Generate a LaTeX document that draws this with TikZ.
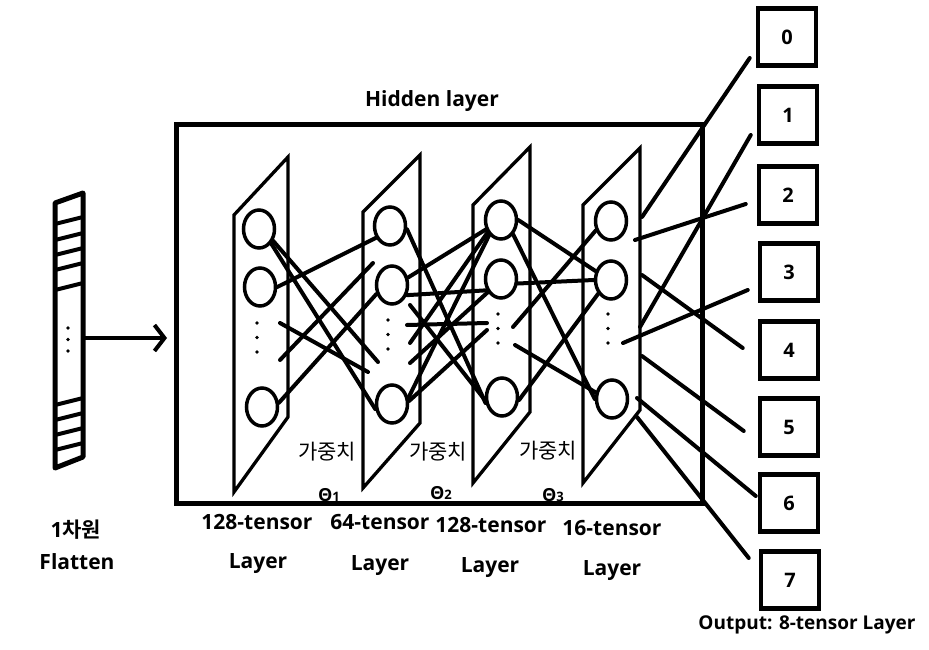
\documentclass[tikz,border=0pt]{standalone}
\usepackage{fontspec}
\setmainfont{Open Sans}
\newfontfamily\kr{Noto Sans CJK KR}[BoldFont={Noto Sans CJK KR Bold}]
\usetikzlibrary{shapes.geometric,arrows.meta}

\begin{document}
\begin{tikzpicture}[x=1pt, y=-1pt,
    unit/.style={draw, ellipse, line width=3.5pt, minimum width=31pt, minimum height=38pt, inner sep=0pt},
    plane/.style={line width=3.3pt, line join=miter},
    link/.style={line width=4pt, line cap=round},
    outbox/.style={draw, line width=4.5pt, minimum width=58pt, minimum height=57pt, inner sep=0pt, font=\bfseries\fontsize{20}{20}\selectfont},
    lbl/.style={font=\bfseries\fontsize{21}{24}\selectfont},
    wlbl/.style={font=\kr\fontsize{21}{21}\selectfont},
    tlbl/.style={font=\bfseries\fontsize{18}{18}\selectfont}]
    \useasboundingbox (0,0) rectangle (929,650);

    % Flatten input
    \draw[line width=5pt, line join=round] (55,203) -- (83,193) -- (83,457) -- (55,468) -- cycle;
    \foreach \y in {217,233,248,263,283,398,413,428,443}
        \draw[line width=4pt] (55,\y+7) -- (83,\y);
    \foreach \k in {0,11.5,23}
        \fill (68,328+\k) circle (1.8pt);
    \node[lbl] (dim) at (76,530) {1\kr 차원};
    \node[lbl] (flat) at (77,562) {Flatten};

    % Arrow into hidden layer
    \coordinate (F) at (84,338);
    \coordinate (H) at (167,338);
    \draw[line width=4pt, -{Straight Barb[length=10pt,width=26pt]}] (F) -- (H);

    % Hidden layer box
    \draw[line width=5pt] (176,125) rectangle (702,503);
    \node[lbl] (hid) at (432,101) {Hidden layer};

    % Layer planes
    \draw[plane] (234,215) -- (288,157) -- (288,417) -- (234,492) -- cycle;
    \draw[plane] (363,212) -- (420,155) -- (420,423) -- (363,488) -- cycle;
    \draw[plane] (473,205) -- (530,147) -- (530,412) -- (473,483) -- cycle;
    \draw[plane] (583,205) -- (640,148) -- (640,410) -- (583,483) -- cycle;

    % Units
    \node[unit] (L1t) at (259,229) {};
    \node[unit] (L1m) at (260,287) {};
    \node[unit] (L1b) at (262,407) {};
    \node[unit] (L2t) at (390,226) {};
    \node[unit] (L2m) at (392,285) {};
    \node[unit] (L2b) at (392,404) {};
    \node[unit] (L3t) at (501,220) {};
    \node[unit] (L3m) at (501,279) {};
    \node[unit] (L3b) at (502,397) {};
    \node[unit] (L4t) at (611,221) {};
    \node[unit] (L4m) at (611,280) {};
    \node[unit] (L4b) at (612,399) {};
    \foreach \dx/\dy in {257/323, 388/320, 498/314, 608/314}
        \foreach \k in {0,14.5,29}
            \fill (\dx,\dy+\k) circle (1.8pt);

    % Free ends
    \coordinate (P1) at (378,362);
    \coordinate (P2) at (280,323);
    \coordinate (P3) at (368,372);
    \coordinate (P4) at (280,360);
    \coordinate (P5) at (373,263);
    \coordinate (P6) at (407,325);
    \coordinate (P7) at (487,323);
    \coordinate (P8) at (410,305);
    \coordinate (P9) at (410,343);
    \coordinate (P10) at (410,363);
    \coordinate (P11) at (487,330);
    \coordinate (P12) at (513,327);
    \coordinate (P13) at (515,345);

    % Weights 1
    \draw[link] (L1t.-40) -- (P1);
    \draw[link] (L1t.-50) -- (L2b.197);
    \draw[link] (L1m.0) -- (L2t.220);
    \draw[link] (P2) -- (P3);
    \draw[link] (P4) -- (P5);
    \draw[link] (L1b.14) -- (L2m.210);

    % Weights 2
    \draw[link] (L2t.-11) -- (L3b.200);
    \draw[link] (L2m.25) -- (L3t.212);
    \draw[link] (L2m.-34) -- (L3m.218);
    \draw[link] (P6) -- (P7);
    \draw[link] (P8) -- (L3b.190);
    \draw[link] (P9) -- (L3t.223);
    \draw[link] (P10) -- (L3m.225);
    \draw[link] (L2b.21) -- (L3t.232);
    \draw[link] (L2b.10) -- (P11);

    % Weights 3
    \draw[link] (L3t.0) -- (L4m.150);
    \draw[link] (L3t.-50) -- (L4b.180);
    \draw[link] (L3m.-15) -- (L4m.180);
    \draw[link] (P12) -- (L4t.212);
    \draw[link] (P13) -- (L4b.158);
    \draw[link] (L3b.-10) -- (L4m.227);

    % Weight labels
    \node[wlbl] (w1) at (327,452) {가중치};
    \node[wlbl] (w2) at (438,452) {가중치};
    \node[wlbl] (w3) at (548,451) {가중치};
    \node[tlbl] (t1) at (329,495) {Θ{\fontsize{13}{13}\selectfont 1}};
    \node[tlbl] (t2) at (441,493) {Θ{\fontsize{13}{13}\selectfont 2}};
    \node[tlbl] (t3) at (553,495) {Θ{\fontsize{13}{13}\selectfont 3}};

    % Layer labels
    \node[lbl] (n1) at (257,522) {128-tensor};
    \node[lbl] (n2) at (380,522) {64-tensor};
    \node[lbl] (n3) at (491,525) {128-tensor};
    \node[lbl] (n4) at (612,528) {16-tensor};
    \node[lbl] (y1) at (258,564) {Layer};
    \node[lbl] (y2) at (380,566) {Layer};
    \node[lbl] (y3) at (490,568) {Layer};
    \node[lbl] (y4) at (612,571) {Layer};

    % Output layer
    \foreach \i/\x/\y in {0/787/37, 1/788/115, 2/788/195, 3/789/272, 4/789/350, 5/789/427, 6/789/503, 7/790/580}
        \node[outbox] (O\i) at (\x,\y) {\i};
    \node[lbl, font=\bfseries\fontsize{19}{20}\selectfont] (outlbl) at (807,625) {Output: 8-tensor Layer};

    % Weights to output
    \coordinate (S0) at (642,217);
    \coordinate (S1) at (640,327);
    \coordinate (S2) at (635,240);
    \coordinate (S3) at (623,343);
    \coordinate (S4) at (642,275);
    \coordinate (S5) at (642,356);
    \coordinate (S6) at (637,398);
    \coordinate (S7) at (637,417);
    \draw[link] (S0) -- ([shift={(-6,21)}]O0.west);
    \draw[link] (S1) -- ([shift={(-6,20)}]O1.west);
    \draw[link] (S2) -- ([shift={(-11,9)}]O2.west);
    \draw[link] (S3) -- ([shift={(-10,18)}]O3.west);
    \draw[link] (S4) -- ([shift={(-15,-2)}]O4.west);
    \draw[link] (S5) -- ([shift={(-14,4)}]O5.west);
    \draw[link] (S6) -- ([shift={(-2,-7)}]O6.west);
    \draw[link] (S7) -- ([shift={(-10,-22)}]O7.west);
\end{tikzpicture}
\end{document}
